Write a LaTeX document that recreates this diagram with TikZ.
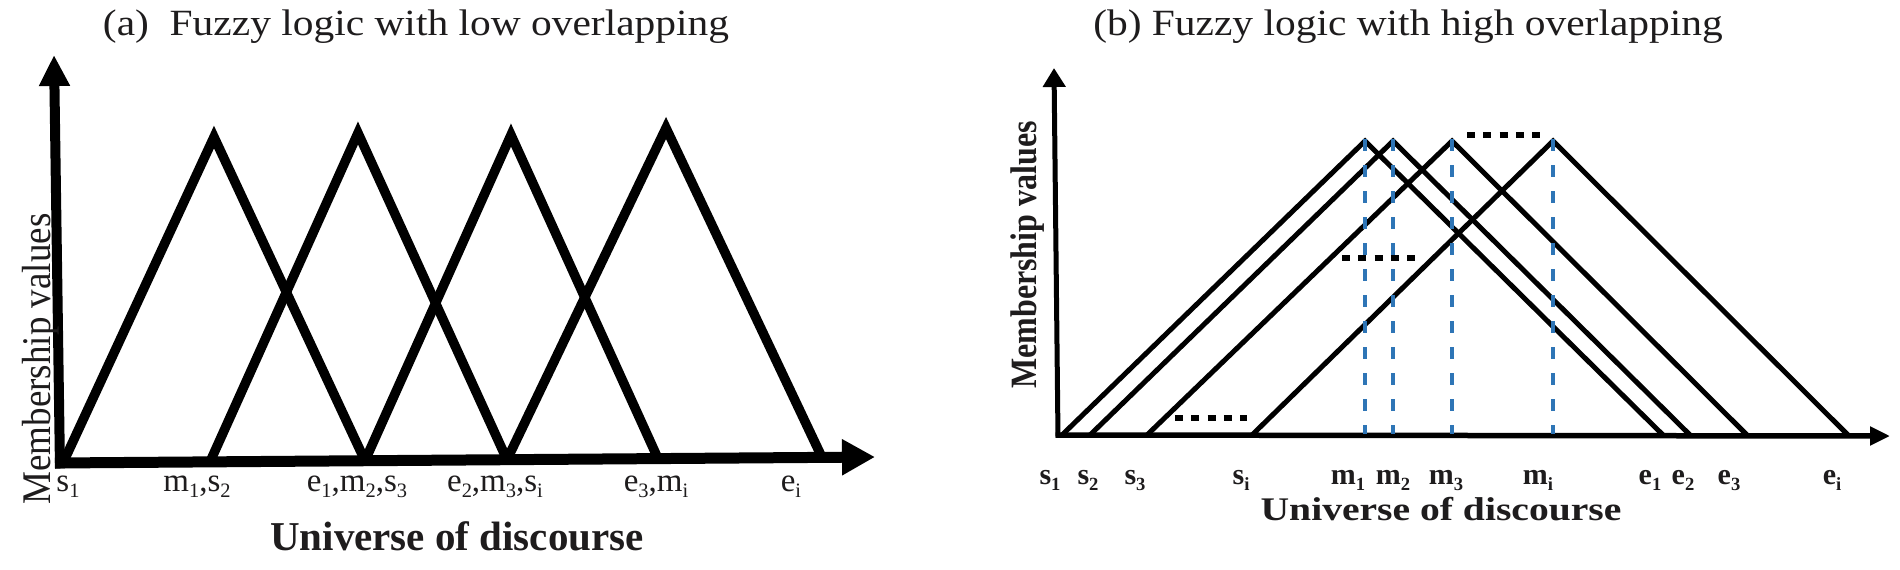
\documentclass[tikz,border=0pt]{standalone}
\usepackage{fontspec}
\setmainfont{Liberation Serif}
\usepackage{graphicx}
\usetikzlibrary{arrows.meta}
\definecolor{dblue}{RGB}{46,117,182}
\definecolor{txt}{RGB}{30,28,29}
\newcommand\mysub[1]{\raisebox{-0.2em}{\scalebox{0.62}{#1}}}
\newcommand\fs[1]{\fontsize{#1}{#1}\selectfont}
\begin{document}
\begin{tikzpicture}[x=1pt,y=-1pt,
  txtnode/.style={inner sep=0pt,anchor=base,text=txt},
  thicktri/.style={line width=9.5pt,line join=miter},
  thintri/.style={line width=5pt,line join=miter},
  mline/.style={draw=dblue,line width=4.5pt,dash pattern=on 12pt off 14pt},
  dotline/.style={line width=6.5pt,dash pattern=on 8pt off 8.25pt},
]
\useasboundingbox (0,0) rectangle (1900,570);
\fill[white] (0,0) rectangle (1900,570);

% ---------- titles ----------
\node[txtnode] (titleA) at (416,35) {\fs{37}\scalebox{1.12}[1]{(a)\hspace{0.5em}Fuzzy logic with low overlapping}};
\node[txtnode] (titleB) at (1408,35) {\fs{37}\scalebox{1.12}[1]{(b) Fuzzy logic with high overlapping}};

% ---------- panel (a) ----------
\coordinate (aYbot) at (60,468.5);
\coordinate (aYtip) at (54,55);
\coordinate (aXst) at (55,463);
\coordinate (aXtip) at (875,457);
\draw[line width=10pt,-{Triangle[length=31pt,width=29pt]}] (aYbot) -- (aYtip);
\draw[line width=11pt,-{Triangle[length=33pt,width=34pt]}] (aXst) -- (aXtip);

\coordinate (aS1) at (63,463);
\coordinate (aS2) at (210,461.9);
\coordinate (aE1) at (365,460.7);
\coordinate (aE2) at (507,459.7);
\coordinate (aE3) at (658,458.6);
\coordinate (aEi) at (822,457.4);
\coordinate (aP1) at (214,137);
\coordinate (aP2) at (358,133);
\coordinate (aP3) at (511,135);
\coordinate (aP4) at (666,128);
\draw[thicktri] (aS1) -- (aP1) -- (aE1);
\draw[thicktri] (aS2) -- (aP2) -- (aE2);
\draw[thicktri] (aE1) -- (aP3) -- (aE3);
\draw[thicktri] (aE2) -- (aP4) -- (aEi);

\node[txtnode] (la1) at (68,491) {\fs{33}s\mysub{1}};
\node[txtnode] (la2) at (197,491) {\fs{33}m\mysub{1},s\mysub{2}};
\node[txtnode] (la3) at (357,491) {\fs{33}e\mysub{1},m\mysub{2},s\mysub{3}};
\node[txtnode] (la4) at (495,491) {\fs{33}e\mysub{2},m\mysub{3},s\mysub{i}};
\node[txtnode] (la5) at (656,491) {\fs{33}e\mysub{3},m\mysub{i}};
\node[txtnode] (la6) at (791,491) {\fs{33}e\mysub{i}};

\node[txtnode] (univA) at (457,550) {\fs{41}\bfseries Universe of discourse};
\node[txtnode,rotate=90] (membA) at (50,359) {\fs{37}\scalebox{1}[1.1]{Membership values}};

% ---------- panel (b) ----------
\coordinate (bYbot) at (1058,437.5);
\coordinate (bYtip) at (1054,68);
\coordinate (bXst) at (1055.5,435);
\coordinate (bXtip) at (1890,436);
\draw[line width=5pt,-{Triangle[length=19pt,width=22pt]}] (bYbot) -- (bYtip);
\draw[line width=5.5pt,-{Triangle[length=20pt,width=18pt]}] (bXst) -- (bXtip);

\foreach \n/\s/\m/\e in {1/1062/1365/1663, 2/1090/1393/1690, 3/1147/1452/1747, 4/1252/1553/1848}{
  \coordinate (bS\n) at (\s,435);
  \coordinate (bM\n) at (\m,141);
  \coordinate (bE\n) at (\e,435);
  \coordinate (bMb\n) at (\m,434);
  \coordinate (bMt\n) at (\m,139);
  \draw[thintri] (bS\n) -- (bM\n) -- (bE\n);
}
\foreach \n in {1,2,3,4}{
  \draw[mline] (bMt\n) -- (bMb\n);
}

\coordinate (dTa) at (1467,135);
\coordinate (dTb) at (1540,135);
\coordinate (dMa) at (1342,258);
\coordinate (dMb) at (1415,258);
\coordinate (dBa) at (1175,418);
\coordinate (dBb) at (1247,418);
\draw[dotline] (dTa) -- (dTb);
\draw[dotline] (dMa) -- (dMb);
\draw[dotline] (dBa) -- (dBb);

\node[txtnode] (lb1) at (1050,484) {\fs{30}\bfseries s\mysub{1}};
\node[txtnode] (lb2) at (1088,484) {\fs{30}\bfseries s\mysub{2}};
\node[txtnode] (lb3) at (1135,484) {\fs{30}\bfseries s\mysub{3}};
\node[txtnode] (lb4) at (1241,484) {\fs{30}\bfseries s\mysub{i}};
\node[txtnode] (lb5) at (1348,484) {\fs{30}\bfseries m\mysub{1}};
\node[txtnode] (lb6) at (1393,484) {\fs{30}\bfseries m\mysub{2}};
\node[txtnode] (lb7) at (1446,484) {\fs{30}\bfseries m\mysub{3}};
\node[txtnode] (lb8) at (1538,484) {\fs{30}\bfseries m\mysub{i}};
\node[txtnode] (lb9) at (1650,484) {\fs{30}\bfseries e\mysub{1}};
\node[txtnode] (lb10) at (1683,484) {\fs{30}\bfseries e\mysub{2}};
\node[txtnode] (lb11) at (1729,484) {\fs{30}\bfseries e\mysub{3}};
\node[txtnode] (lb12) at (1832,484) {\fs{30}\bfseries e\mysub{i}};

\node[txtnode] (univB) at (1441,520) {\fs{33}\bfseries\scalebox{1.2}[1]{Universe of discourse}};
\node[txtnode,rotate=90] (membB) at (1036,255) {\fs{32}\bfseries\scalebox{1}[1.16]{Membership values}};
\end{tikzpicture}
\end{document}
